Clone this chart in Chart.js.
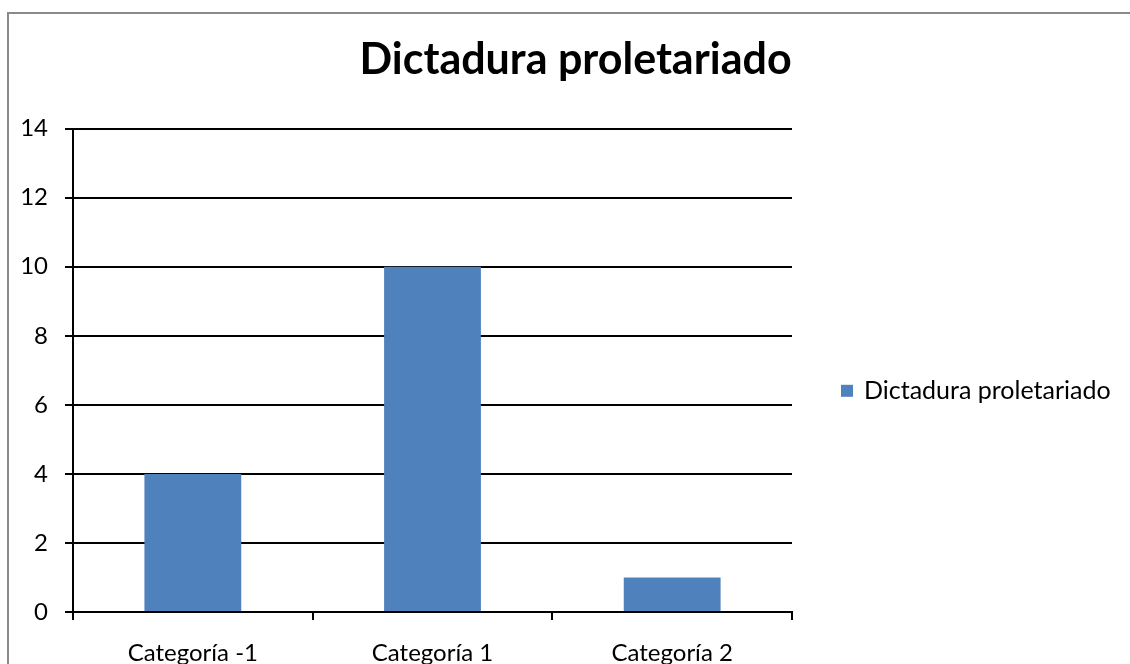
<!DOCTYPE html>
<html>
<head>
<meta charset="utf-8">
<script src="https://cdn.jsdelivr.net/npm/chart.js@4/dist/chart.umd.min.js"></script>
<style>
  html, body { margin: 0; padding: 0; background: #fff; overflow: hidden; }
  #frame {
    position: absolute; left: 7px; top: 12px;
    width: 1133px; height: 660px;
    border-left: 2px solid #8a8a8a; border-top: 2px solid #8a8a8a;
  }
  #chart { display: block; }
</style>
</head>
<body>
<div id="frame"><canvas id="chart" width="1133" height="660"></canvas></div>
<script>
// ===== DATA =====
const categories = ['Categoría -1', 'Categoría 1', 'Categoría 2'];
const seriesName = 'Dictadura proletariado';
const seriesValues = [4, 10, 1];
const yTicks = [0, 2, 4, 6, 8, 10, 12, 14];

const FONT = 'Lato, "Open Sans", sans-serif';
const BAR_COLOR = '#4F81BD';

// office-style legend: one entry in the right-hand column, a bit below the plot centre
const sideLegend = {
  id: 'sideLegend',
  afterDraw(chart) {
    const { ctx, chartArea } = chart;
    const x = chartArea.right + 49;
    const y = (chartArea.top + chartArea.bottom) / 2 + 20.5;
    const ds = chart.data.datasets[0];
    ctx.save();
    ctx.fillStyle = ds.backgroundColor;
    ctx.fillRect(x, y - 6, 12, 12);
    ctx.fillStyle = '#000';
    ctx.font = `25px ${FONT}`;
    ctx.textBaseline = 'middle';
    ctx.textAlign = 'left';
    ctx.fillText(ds.label, x + 23, y);
    ctx.restore();
  },
};

new Chart(document.getElementById('chart'), {
  type: 'bar',
  data: {
    labels: categories,
    datasets: [{
      label: seriesName,
      data: seriesValues,
      backgroundColor: BAR_COLOR,
      borderWidth: 0,
      categoryPercentage: 1,
      barPercentage: 0.404,
    }],
  },
  options: {
    responsive: false,
    animation: false,
    layout: { padding: 0 },
    scales: {
      x: {
        grid: { display: true, drawOnChartArea: false, offset: true, tickLength: 8, color: '#000', lineWidth: 2 },
        border: { display: true, color: '#000', width: 2 },
        ticks: { color: '#000', font: { family: FONT, size: 24 }, padding: 19, maxRotation: 0 },
        afterFit: (s) => { s.height = 62; },
      },
      y: {
        min: 0,
        max: 14,
        afterBuildTicks: (s) => { s.ticks = yTicks.map((v) => ({ value: v })); },
        grid: { color: '#000', lineWidth: 2, tickLength: 8 },
        border: { display: true, color: '#000', width: 2 },
        ticks: { color: '#000', font: { family: FONT, size: 24 }, padding: 17 },
        afterFit: (s) => { s.width = 64; },
      },
      // empty column on the right that holds the legend
      legendSpace: {
        type: 'linear',
        position: 'right',
        grid: { display: false },
        border: { display: false },
        ticks: { display: false },
        afterFit: (s) => { s.width = 350; },
      },
    },
    plugins: {
      title: {
        display: true,
        text: seriesName,
        color: '#000',
        font: { family: FONT, size: 43, weight: 'bold' },
        padding: { top: 20, bottom: 43 },
      },
      legend: { display: false },
      tooltip: { enabled: false },
    },
  },
  plugins: [sideLegend],
});
</script>
</body>
</html>
